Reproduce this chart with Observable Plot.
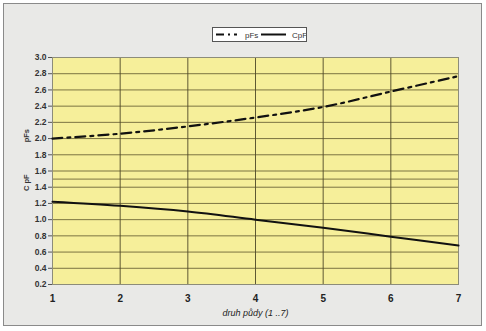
<!DOCTYPE html>
<html><head><meta charset="utf-8">
<script src="https://cdn.jsdelivr.net/npm/d3@7"></script>
<script src="https://cdn.jsdelivr.net/npm/@observablehq/plot@0.6"></script>
<style>
html,body{margin:0;padding:0;background:#fff;}
#wrap{position:relative;width:486px;height:331px;font-family:Arial,"Liberation Sans",sans-serif;}
#frame{position:absolute;left:3px;top:3px;width:477px;height:321px;border:1px solid #8a8a8a;background:#e9e9e7;}
#legend{position:absolute;left:212px;top:27px;width:93px;height:13px;border:1px solid #555;background:#fff;}
#legend svg{position:absolute;left:0;top:0;}
#plot{position:absolute;left:0;top:0;}
</style></head>
<body><div id="wrap"><div id="frame"></div><div id="plot"></div>
<div id="legend"><svg width="93" height="13">
<line x1="3" y1="6.5" x2="24" y2="6.5" stroke="#111" stroke-width="2" stroke-dasharray="8,4,2,4"/>
<text x="32" y="9.5" font-size="8" fill="#333" font-family="Arial, 'Liberation Sans', sans-serif">pFs</text>
<line x1="48" y1="6.5" x2="73" y2="6.5" stroke="#111" stroke-width="2"/>
<text x="79" y="9.5" font-size="8" fill="#333" font-family="Arial, 'Liberation Sans', sans-serif">CpF</text>
</svg></div></div>
<script>
const druh = [1, 2, 3, 4, 5, 6, 7];
const pFs = [2.00, 2.06, 2.15, 2.26, 2.39, 2.58, 2.77];
const CpF = [1.22, 1.17, 1.10, 1.00, 0.90, 0.79, 0.68];
const yTicks = [0.2,0.4,0.6,0.8,1.0,1.2,1.4,1.6,1.8,2.0,2.2,2.4,2.6,2.8,3.0];
const extraGrid = [1.5];
const xTitle = "druh půdy (1 ..7)";
const yTitles = ["pFs", "C pF"];
const yTitlePos = [2.03, 1.45];

const rowsP = druh.map((d,i)=>({x:d,y:pFs[i]}));
const rowsC = druh.map((d,i)=>({x:d,y:CpF[i]}));

const chart = Plot.plot({
  width: 486, height: 331,
  marginLeft: 52, marginRight: 28, marginTop: 57, marginBottom: 47,
  style: {background: "transparent", fontFamily: "Arial, 'Liberation Sans', sans-serif"},
  x: {domain: [1, 7]},
  y: {domain: [0.2, 3.0]},
  marks: [
    Plot.frame({fill: "#f6ef9a", stroke: "#8c8c7a"}),
    Plot.gridY(yTicks.concat(extraGrid), {stroke: "#6e6638", strokeOpacity: 0.9, strokeWidth: 1}),
    Plot.gridX(druh.slice(1,-1), {stroke: "#4e4828", strokeOpacity: 0.9, strokeWidth: 1}),
    Plot.frame({stroke: "#8c8c7a"}),
    Plot.axisY(yTicks, {tickFormat: d3.format(".1f"), tickSize: 4, tickPadding: 2, fontSize: 8.5, fontWeight: "bold", fill: "#333", stroke: "#555", label: null}),
    Plot.axisX(druh, {tickSize: 0, tickPadding: 10, fontSize: 10, fontWeight: "bold", fill: "#222", label: null}),
    Plot.text([xTitle], {frameAnchor: "bottom", dy: 31, fontSize: 9, fontStyle: "italic", fill: "#222"}),
    Plot.line(rowsP, {x: "x", y: "y", curve: "catmull-rom", stroke: "#111", strokeWidth: 2.2, strokeDasharray: "10,5,3,5"}),
    Plot.line(rowsC, {x: "x", y: "y", curve: "catmull-rom", stroke: "#111", strokeWidth: 2})
  ]
});
document.getElementById("plot").appendChild(chart);
const ys = chart.scale("y");
const svg = d3.select(chart);
yTitles.forEach((t, i) => {
  const yy = ys.apply(yTitlePos[i]);
  svg.append("text").attr("transform", `translate(29,${yy}) rotate(-90)`)
    .attr("text-anchor", "middle").attr("font-size", 7.5).attr("font-weight", "bold")
    .attr("fill", "#333").attr("font-family", "Arial, 'Liberation Sans', sans-serif").text(t);
});
</script></body></html>
